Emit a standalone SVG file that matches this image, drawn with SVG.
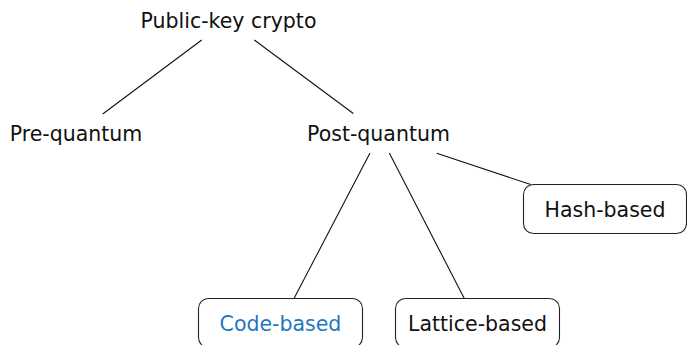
<svg xmlns="http://www.w3.org/2000/svg" width="687" height="345" viewBox="0 0 687 345">
<style>
text{font-family:"DejaVu Sans",sans-serif;font-size:20.5px;fill:#111;text-anchor:middle}
.box{fill:#fff;stroke:#222;stroke-width:1.1}
.edge{stroke:#111;stroke-width:1.1;fill:none}
.hl{fill:#1f77c0}
</style>
<rect width="687" height="345" fill="#fff"/>
<g id="edges">
<line class="edge" x1="201.7" y1="40" x2="102.7" y2="114"/>
<line class="edge" x1="254.3" y1="40" x2="353.3" y2="113.5"/>
<line class="edge" x1="370" y1="153" x2="294" y2="298.5"/>
<line class="edge" x1="389.3" y1="153" x2="464.3" y2="298.5"/>
<line class="edge" x1="436.7" y1="153.3" x2="530.7" y2="184.5"/>
</g>
<g id="public-key"><text x="228.5" y="27.5">Public-key crypto</text></g>
<g id="pre-quantum"><text x="76" y="140.5">Pre-quantum</text></g>
<g id="post-quantum"><text x="378.5" y="140.5">Post-quantum</text></g>
<g id="hash-based"><rect class="box" x="523.5" y="184.5" width="163" height="49" rx="10"/><text x="605" y="217">Hash-based</text></g>
<g id="code-based"><rect class="box" x="198.5" y="298.5" width="164" height="49" rx="10"/><text class="hl" x="280.5" y="331">Code-based</text></g>
<g id="lattice-based"><rect class="box" x="395.5" y="298.5" width="164" height="49" rx="10"/><text x="477.5" y="331">Lattice-based</text></g>
</svg>
